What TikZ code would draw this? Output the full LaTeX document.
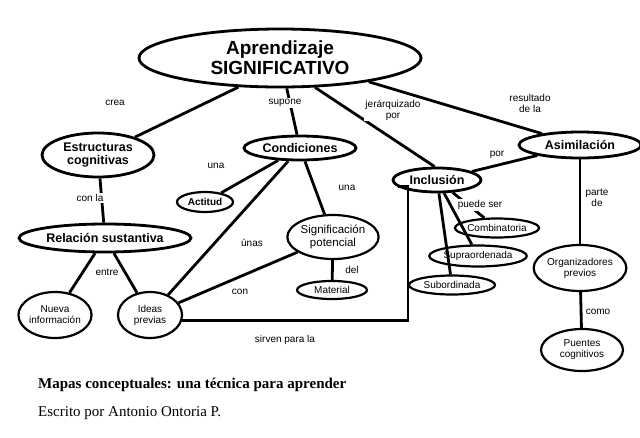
\documentclass[tikz,border=0pt]{standalone}
\usepackage{fontspec}
\setmainfont{Liberation Serif}
\newfontfamily\arial{Liberation Sans}
\usetikzlibrary{shapes.geometric}
\begin{document}
\begin{tikzpicture}[x=1pt,y=-1pt,
  con/.style={ellipse,draw,line width=2.8pt,inner sep=0pt,font=\arial\bfseries\fontsize{12.5}{13}\selectfont,align=center},
  sm/.style={ellipse,draw,line width=2.2pt,inner sep=0pt,font=\arial\fontsize{10}{11}\selectfont,align=center},
  lk/.style={line width=2.8pt},
  lab/.style={font=\arial\fontsize{10}{11}\selectfont,align=center,inner sep=1pt}]
\useasboundingbox (0,0) rectangle (640,437);
\node[con,minimum width=282,minimum height=58,font=\arial\bfseries\fontsize{19}{20}\selectfont] (main) at (280,58) {Aprendizaje\\SIGNIFICATIVO};
\node[con,minimum width=112,minimum height=44] (est) at (98,155) {Estructuras\\cognitivas};
\node[con,minimum width=112,minimum height=24] (cond) at (300,148) {Condiciones};
\node[con,minimum width=88,minimum height=24] (inc) at (437,180) {Inclusión};
\node[con,minimum width=122,minimum height=26] (asi) at (580,145) {Asimilación};
\node[sm,minimum width=56,minimum height=20,font=\arial\bfseries\fontsize{10}{11}\selectfont] (act) at (205,202) {Actitud};
\node[sm,minimum width=84,minimum height=44,font=\arial\fontsize{11.5}{12.5}\selectfont] (sig) at (333,237) {Significación\\potencial};
\node[sm,minimum width=70,minimum height=18] (mat) at (332,290) {Material};
\node[con,minimum width=172,minimum height=28] (rel) at (105,238) {Relación sustantiva};
\node[sm,minimum width=68,minimum height=46] (nue) at (55,315) {Nueva\\información};
\node[sm,minimum width=64,minimum height=46] (ide) at (150,315) {Ideas\\previas};
\node[sm,minimum width=82,minimum height=19] (comb) at (497,228) {Combinatoria};
\node[sm,minimum width=88,minimum height=21] (sup) at (478,256) {Supraordenada};
\node[sm,minimum width=86,minimum height=19] (sub) at (452,285) {Subordinada};
\node[sm,minimum width=92,minimum height=46] (org) at (580,268) {Organizadores\\previos};
\node[sm,minimum width=82,minimum height=42] (pue) at (582,350) {Puentes\\cognitivos};
\draw[lk] (main.-145) -- (est);
\draw[lk] (main) -- (cond);
\draw[lk] (main.-40) -- (inc.100);
\draw[lk] (main.-15) -- (asi);
\draw[lk] (cond) -- (act);
\draw[lk] (cond) -- (sig);
\draw[lk] (cond) -- (ide);
\draw[lk] (sig) -- (ide);
\draw[lk] (sig) -- (mat);
\draw[lk] (est) -- (rel);
\draw[lk] (rel) -- (nue);
\draw[lk] (rel) -- (ide);
\draw[lk] (inc) -- (asi);
\draw[lk] (inc) -- (comb);
\draw[lk] (inc) -- (sup);
\draw[lk] (inc) -- (sub);
\draw[lk] (asi) -- (org);
\draw[lk] (org) -- (pue);
\coordinate (c1) at (408,328);
\draw[lk] (ide.-10) -- (ide.-10 -| c1) -- (inc.-170 -| c1) -- (inc.-170);
\node[lab,fill=white] at (115,103) {crea};
\node[lab,fill=white] at (285,103) {supone};
\node[lab,fill=white] at (393,110) {jerárquizado\\por};
\node[lab,fill=white] at (530,103) {resultado\\de la};
\node[lab,fill=white] at (216,166) {una};
\node[lab,fill=white] at (347,188) {una};
\node[lab,fill=white] at (90,198) {con la};
\node[lab,fill=white] at (107,272) {entre};
\node[lab,fill=white] at (252,243) {únas};
\node[lab,fill=white] at (240,292) {con};
\node[lab,fill=white] at (352,270) {del};
\node[lab,fill=white] at (480,205) {puede ser};
\node[lab,fill=white] at (497,155) {por};
\node[lab,fill=white] at (597,198) {parte\\de};
\node[lab,fill=white] at (598,312) {como};
\node[lab] at (285,340) {sirven para la};
\node[anchor=west,font=\bfseries\fontsize{15}{17}\selectfont,inner sep=0] at (38,385) {Mapas conceptuales: una técnica para aprender};
\node[anchor=west,font=\fontsize{15}{17}\selectfont,inner sep=0] at (38,413) {Escrito por Antonio Ontoria P.};
\end{tikzpicture}
\end{document}
